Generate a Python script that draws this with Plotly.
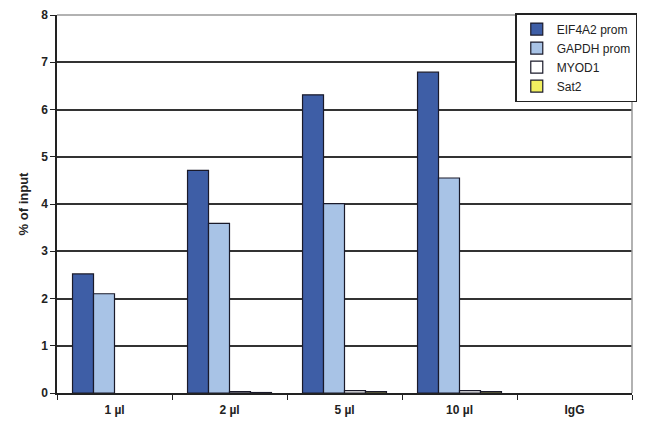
import plotly.graph_objects as go

categories = ["1 µl", "2 µl", "5 µl", "10 µl", "IgG"]
series_names = ["EIF4A2 prom", "GAPDH prom", "MYOD1", "Sat2"]
eif4a2 = [2.52, 4.71, 6.31, 6.79, 0.0]
gapdh = [2.10, 3.59, 4.01, 4.55, 0.0]
myod1 = [0.0, 0.03, 0.05, 0.05, 0.0]
sat2 = [0.0, 0.01, 0.03, 0.03, 0.0]
y_ticks = [0, 1, 2, 3, 4, 5, 6, 7, 8]

values = [eif4a2, gapdh, myod1, sat2]
colors = ["#3E5EA6", "#A8C3E6", "#FFFFFF", "#F2F060"]

fig = go.Figure()
for i, (name, vals, col) in enumerate(zip(series_names, values, colors)):
    fig.add_trace(go.Bar(
        x=categories, y=vals, name=name, legendgroup=name, showlegend=False,
        offsetgroup=str(i),
        marker=dict(color=col,
                    line=dict(color="#1a1a2a",
                              width=[1.2 if v > 0 else 0 for v in vals])),
    ))
# legend-only entries (keep the outlined swatches)
for i, (name, col) in enumerate(zip(series_names, colors)):
    fig.add_trace(go.Bar(
        x=[categories[0]], y=[None], name=name, legendgroup=name, showlegend=True,
        offsetgroup=str(i), hoverinfo="skip",
        marker=dict(color=col, line=dict(color="#1a1a2a", width=1.2)),
    ))

# page body adds an 8px offset; margins compensate so plot area lands at x 57-632, y 15-393
fig.update_layout(
    width=650, height=434,
    margin=dict(l=49, r=26, t=7, b=49, autoexpand=False),
    paper_bgcolor="white", plot_bgcolor="white",
    barmode="group", bargap=0.27, bargroupgap=0,
    font=dict(family="Liberation Sans, Arial, sans-serif", color="#222"),
    showlegend=True,
    legend=dict(
        x=0.797, y=1.005, xanchor="left", yanchor="top",
        bgcolor="white", bordercolor="#222", borderwidth=1.5,
        font=dict(size=12, color="#222"),
        tracegroupgap=0, itemwidth=30,
    ),
    xaxis=dict(
        showline=True, linecolor="#222", linewidth=1.5,
        ticks="outside", tickson="boundaries", ticklen=5, tickcolor="#222",
        ticklabelstandoff=5,
        tickfont=dict(size=12, family="Liberation Sans, Arial, sans-serif", weight="bold"),
        showgrid=False, automargin=False,
    ),
    yaxis=dict(
        range=[0, 8], tickvals=y_ticks, ticktext=[str(t) for t in y_ticks],
        showline=True, linecolor="#222", linewidth=1.5,
        ticks="outside", ticklen=5, tickcolor="#222",
        showgrid=True, gridcolor="#333", gridwidth=1.5,
        zeroline=False, automargin=False,
        tickfont=dict(size=12, family="Liberation Sans, Arial, sans-serif", weight="bold"),
        title=dict(text="% of input", font=dict(size=13, weight="bold"), standoff=10),
    ),
)

# gray top and right frame
fig.add_shape(type="line", xref="paper", yref="paper", x0=0, x1=1, y0=1, y1=1,
              line=dict(color="#999", width=1.5))
fig.add_shape(type="line", xref="paper", yref="paper", x0=1, x1=1, y0=0, y1=1,
              line=dict(color="#999", width=1.5))

fig.write_html("out.html")
